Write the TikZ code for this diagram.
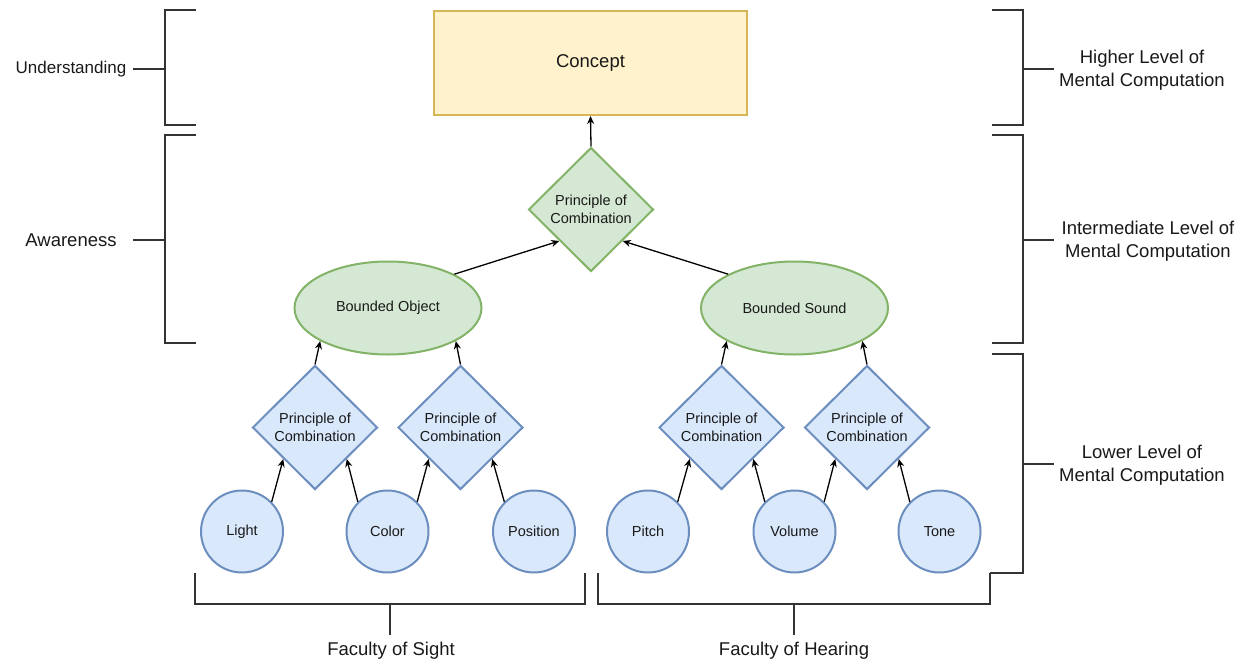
\documentclass[tikz,border=0pt]{standalone}
\usepackage{fontspec}
\setmainfont{Liberation Sans}
\usetikzlibrary{shapes.geometric,arrows.meta,calc}

\definecolor{blueFill}{HTML}{DAE8FC}
\definecolor{blueLine}{HTML}{6C8EBF}
\definecolor{greenFill}{HTML}{D5E8D4}
\definecolor{greenLine}{HTML}{82B366}
\definecolor{yellowFill}{HTML}{FFF2CC}
\definecolor{yellowLine}{HTML}{D6B656}
\definecolor{inkGray}{HTML}{333333}

\tikzset{
    bigtxt/.style={font=\fontsize{18.5}{23}\selectfont, text=black!90, align=center},
    smalltxt/.style={font=\fontsize{14.5}{18}\selectfont, text=black!90, align=center},
    sense/.style={circle, draw=blueLine, fill=blueFill, line width=2pt, minimum size=82pt, inner sep=0pt, smalltxt},
    combine/.style={diamond, aspect=1, draw=blueLine, fill=blueFill, line width=2pt, minimum width=125pt, minimum height=124pt, inner sep=0pt, smalltxt},
    bounded/.style={ellipse, draw=greenLine, fill=greenFill, line width=2pt, minimum width=187pt, minimum height=93pt, inner sep=0pt, smalltxt},
    feed/.style={-{Stealth[length=8pt,width=7pt]}, line width=1.3pt},
    bracket/.style={draw=inkGray, line width=2pt},
}

\begin{document}
\begin{tikzpicture}[x=1pt, y=-1pt]
        \useasboundingbox (0,0) rectangle (1247,664);

        % top of the hierarchy
        \node[bigtxt, draw=yellowLine, fill=yellowFill, line width=2pt, minimum width=313pt, minimum height=104pt] (concept) at (590.5,63) {Concept};
        \node[combine, draw=greenLine, fill=greenFill] (dTop) at (591,209.5) {Principle of\\Combination};

        % bounded things
        \node[bounded] (object) at (388,308) {Bounded Object};
        \node[bounded] (sound) at (794.5,308) {Bounded Sound};

        % lower diamonds
        \node[combine] (d1) at (315,427.5) {Principle of\\Combination};
        \node[combine] (d2) at (460.5,427.5) {Principle of\\Combination};
        \node[combine] (d3) at (721.5,427.5) {Principle of\\Combination};
        \node[combine] (d4) at (867,427.5) {Principle of\\Combination};

        % sense inputs
        \node[sense] (light) at (242,531.5) {Light};
        \node[sense] (color) at (387.5,531.5) {Color};
        \node[sense] (position) at (534,531.5) {Position};
        \node[sense] (pitch) at (648,531.5) {Pitch};
        \node[sense] (volume) at (794.5,531.5) {Volume};
        \node[sense] (tone) at (939.5,531.5) {Tone};

        % arrows up the tree
        \draw[feed] (dTop.north) -- (concept.south);
        \draw[feed] (object.27) -- ($(dTop.south)!.5!(dTop.west)$);
        \draw[feed] (sound.153) -- ($(dTop.south)!.5!(dTop.east)$);
        \draw[feed] (d1.north) -- (object.-154);
        \draw[feed] (d2.north) -- (object.-26);
        \draw[feed] (d3.north) -- (sound.-154);
        \draw[feed] (d4.north) -- (sound.-26);
        \draw[feed] (light.45) -- ($(d1.south)!.5!(d1.west)$);
        \draw[feed] (color.135) -- ($(d1.south)!.5!(d1.east)$);
        \draw[feed] (color.45) -- ($(d2.south)!.5!(d2.west)$);
        \draw[feed] (position.135) -- ($(d2.south)!.5!(d2.east)$);
        \draw[feed] (pitch.45) -- ($(d3.south)!.5!(d3.west)$);
        \draw[feed] (volume.135) -- ($(d3.south)!.5!(d3.east)$);
        \draw[feed] (volume.45) -- ($(d4.south)!.5!(d4.west)$);
        \draw[feed] (tone.135) -- ($(d4.south)!.5!(d4.east)$);

        % left brackets
        \draw[bracket] (196,10) -- (165,10) -- (165,125) -- (196,125);
        \draw[bracket] (133,69) -- (165,69);
        \draw[bracket] (196,135) -- (165,135) -- (165,343) -- (196,343);
        \draw[bracket] (133,240) -- (165,240);
        \node[bigtxt, font=\fontsize{17}{21}\selectfont] (understand) at (71,69) {Understanding};
        \node[bigtxt] (aware) at (71,240) {Awareness};

        % right brackets
        \draw[bracket] (992,10) -- (1023,10) -- (1023,125) -- (992,125);
        \draw[bracket] (1023,69) -- (1054,69);
        \draw[bracket] (992,135) -- (1023,135) -- (1023,343) -- (992,343);
        \draw[bracket] (1023,240) -- (1054,240);
        \draw[bracket] (992,354) -- (1023,354) -- (1023,573) -- (990,573);
        \draw[bracket] (1023,464) -- (1054,464);
        \node[bigtxt] (higher) at (1142,70) {Higher Level of\\Mental Computation};
        \node[bigtxt] (middle) at (1148,241) {Intermediate Level of\\Mental Computation};
        \node[bigtxt] (lower) at (1142,465) {Lower Level of\\Mental Computation};

        % bottom brackets
        \draw[bracket] (195,573) -- (195,604) -- (585,604) -- (585,573);
        \draw[bracket] (390,604) -- (390,635);
        \draw[bracket] (598,573) -- (598,604) -- (990,604) -- (990,573);
        \draw[bracket] (794,604) -- (794,635);
        \node[bigtxt] (sight) at (391,651) {Faculty of Sight};
        \node[bigtxt] (hearing) at (794,651) {Faculty of Hearing};
\end{tikzpicture}
\end{document}
